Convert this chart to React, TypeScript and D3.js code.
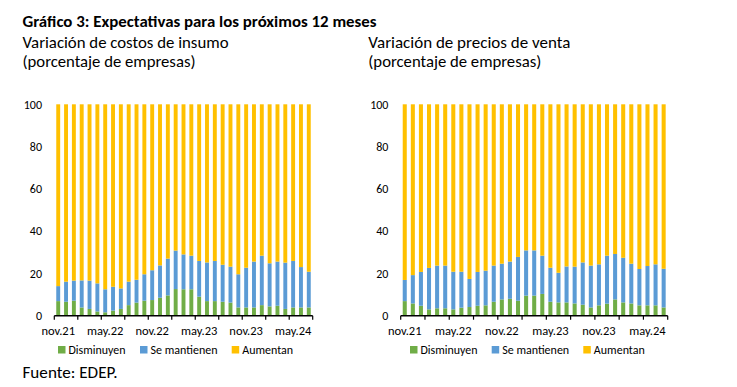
import React from 'react'
import * as d3 from 'd3'

// Gráfico 3: expectativas para los próximos 12 meses (EDEP)
const months = [
  'nov.21', 'dic.21', 'ene.22', 'feb.22', 'mar.22', 'abr.22', 'may.22', 'jun.22', 'jul.22', 'ago.22', 'sep.22',
  'oct.22', 'nov.22', 'dic.22', 'ene.23', 'feb.23', 'mar.23', 'abr.23', 'may.23', 'jun.23', 'jul.23', 'ago.23',
  'sep.23', 'oct.23', 'nov.23', 'dic.23', 'ene.24', 'feb.24', 'mar.24', 'abr.24', 'may.24', 'jun.24', 'jul.24',
]
const tickLabels = ['nov.21', 'may.22', 'nov.22', 'may.23', 'nov.23', 'may.24']
const yTicks = [0, 20, 40, 60, 80, 100]
const seriesNames = ['Disminuyen', 'Se mantienen', 'Aumentan']
const seriesColors = ['#70ad47', '#5b9bd5', '#ffc000']

// Variación de costos de insumo
const costosDisminuyen = [6.9, 6.6, 7.1, 3.9, 3.2, 2.0, 1.6, 2.4, 3.2, 5.0, 6.2, 7.1, 7.4, 8.5, 9.6, 12.6, 12.5, 12.5, 9.0, 6.9, 6.9, 6.6, 6.2, 3.9, 3.9, 3.9, 5.0, 4.4, 4.7, 3.2, 3.9, 3.9, 3.9]
const costosMantienen = [7.1, 9.5, 9.5, 12.8, 13.4, 13.3, 10.9, 11.3, 9.7, 11.1, 10.8, 12.5, 14.1, 15.3, 17.4, 18.2, 16.5, 15.9, 16.9, 18.3, 19.0, 17.5, 17.0, 15.7, 18.8, 21.7, 23.4, 20.4, 20.9, 21.9, 22.0, 19.1, 16.9]
const costosAumentan = [86.0, 83.9, 83.4, 83.3, 83.4, 84.7, 87.5, 86.3, 87.1, 83.9, 83.0, 80.4, 78.5, 76.2, 73.0, 69.2, 71.0, 71.6, 74.1, 74.8, 74.1, 75.9, 76.8, 80.4, 77.3, 74.4, 71.6, 75.2, 74.4, 74.9, 74.1, 77.0, 79.2]

// Variación de precios de venta
const preciosDisminuyen = [6.9, 5.8, 4.7, 3.0, 3.5, 3.5, 3.0, 3.8, 4.1, 4.7, 4.9, 6.6, 7.7, 8.0, 7.1, 9.5, 9.5, 10.3, 6.6, 6.3, 6.3, 5.8, 5.2, 3.9, 4.9, 5.7, 7.7, 6.3, 5.8, 4.9, 4.9, 4.9, 3.9]
const preciosMantienen = [10.0, 13.4, 16.0, 19.6, 20.2, 20.2, 17.8, 17.0, 13.3, 16.0, 16.4, 17.1, 16.9, 17.6, 20.7, 21.4, 21.4, 18.1, 16.1, 14.0, 17.0, 17.4, 20.0, 19.8, 19.4, 22.7, 21.5, 21.1, 18.8, 17.2, 18.6, 19.4, 18.3]
const preciosAumentan = [83.1, 80.8, 79.3, 77.4, 76.3, 76.3, 79.2, 79.2, 82.6, 79.3, 78.7, 76.3, 75.4, 74.4, 72.2, 69.1, 69.1, 71.6, 77.3, 79.7, 76.7, 76.8, 74.8, 76.3, 75.7, 71.6, 70.8, 72.6, 75.4, 77.9, 76.5, 75.7, 77.8]

const FONT = 'Carlito, Calibri, Lato, sans-serif'
const INK = '#000'

type PanelProps = {
  title: string
  titleW: number
  titleX: number
  x0: number
  x1: number
  series: number[][]
  legendX: number[]
}

function Panel({ title, titleW, titleX, x0, x1, series, legendX }: PanelProps) {
  const rows = months.map((m, i) => ({ m, a: series[0][i], b: series[1][i], c: series[2][i] }))
  const stack = d3.stack<any>().keys(['a', 'b', 'c'])(rows)
  const x = d3.scaleBand().domain(months).range([x0, x1]).paddingInner(0.5).paddingOuter(0.25)
  const y = d3.scaleLinear().domain([0, 100]).range([315.7, 104.3])
  const step = (x1 - x0) / months.length
  const boundaries = d3.range(0, months.length + 1, 3)
  const legendW = [57, 67, 51]

  return (
    <g fontFamily={FONT} fill={INK}>
      <text x={titleX} y={47.5} fontSize={16} textLength={titleW} lengthAdjust="spacingAndGlyphs">{title}</text>
      <text x={titleX} y={66.5} fontSize={16} textLength={173} lengthAdjust="spacingAndGlyphs">(porcentaje de empresas)</text>

      {stack.map((layer, k) => (
        <g key={k} fill={seriesColors[k]}>
          {layer.map((d, i) => (
            <rect key={i} x={x(months[i])} y={y(d[1])} width={x.bandwidth()} height={y(d[0]) - y(d[1])} />
          ))}
        </g>
      ))}

      {yTicks.map((t) => (
        <text key={t} x={x0 - 12.3} y={y(t)} dy="0.36em" textAnchor="end" fontSize={12}>{t}</text>
      ))}

      <line x1={x0} x2={x1} y1={y(0)} y2={y(0)} stroke="#000" strokeWidth={1.6} />
      {boundaries.map((b) => (
        <line key={b} x1={x0 + b * step} x2={x0 + b * step} y1={y(0)} y2={y(0) + 4} stroke="#000" strokeWidth={1.2} />
      ))}
      {tickLabels.map((t) => (
        <text key={t} x={(x(t) as number) + x.bandwidth() / 2} y={335} textAnchor="middle" fontSize={12.5}>{t}</text>
      ))}

      {seriesNames.map((s, k) => (
        <g key={s}>
          <rect x={legendX[k]} y={346} width={7.5} height={7.5} fill={seriesColors[k]} />
          <text x={legendX[k] + 10.5} y={354} fontSize={12} textLength={legendW[k]} lengthAdjust="spacingAndGlyphs">{s}</text>
        </g>
      ))}
    </g>
  )
}

export default function App() {
  return (
    <svg width={737} height={387} style={{ position: 'absolute', left: 0, top: 0, background: '#fff' }}>
      <text x={22.5} y={27} fontFamily={FONT} fontWeight="bold" fontSize={15} fill={INK} textLength={354} lengthAdjust="spacingAndGlyphs">
        Gráfico 3: Expectativas para los próximos 12 meses
      </text>
      <Panel
        title="Variación de costos de insumo"
        titleW={206}
        titleX={22.5}
        x0={54.3}
        x1={312.7}
        series={[costosDisminuyen, costosMantienen, costosAumentan]}
        legendX={[58, 140, 231.7]}
      />
      <Panel
        title="Variación de precios de venta"
        titleW={202}
        titleX={368.3}
        x0={400.7}
        x1={667.7}
        series={[preciosDisminuyen, preciosMantienen, preciosAumentan]}
        legendX={[410, 491.7, 583.3]}
      />
      <text x={22.5} y={378} fontFamily={FONT} fontSize={16} fill={INK} textLength={95} lengthAdjust="spacingAndGlyphs">Fuente: EDEP.</text>
    </svg>
  )
}
